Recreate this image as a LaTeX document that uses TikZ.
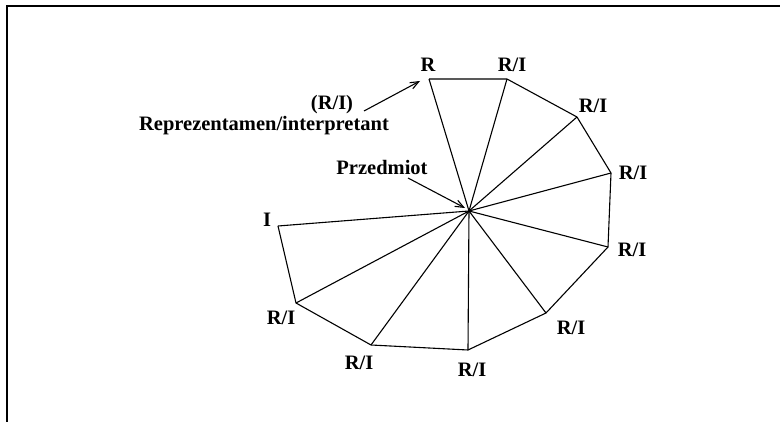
\documentclass[tikz,border=0pt]{standalone}
\usepackage{fontspec}
\setmainfont{Liberation Serif}
\usetikzlibrary{arrows.meta, positioning}
\begin{document}
\begin{tikzpicture}[
    x=1pt, y=-1pt,
    >={Straight Barb[length=3mm, width=2.4mm]},
    every node/.style={font=\fontsize{20.5}{23}\selectfont\bfseries, inner sep=1pt},
    edge/.style={line width=1.1pt, line join=miter},
    frame/.style={line width=2.2pt},
    pointer/.style={->, line width=1.1pt},
]
\useasboundingbox (0,0) rectangle (780,422);
\draw[frame] (7,422) -- (7,6) -- (780,6);
% fan of triangles round the object
\coordinate (c)  at (469,211);
\coordinate (v0) at (429,79);
\coordinate (v1) at (507,79);
\coordinate (v2) at (577,117);
\coordinate (v3) at (611,173);
\coordinate (v4) at (608,247);
\coordinate (v5) at (546,313);
\coordinate (v6) at (468,350);
\coordinate (v7) at (371,345);
\coordinate (v8) at (296,303);
\coordinate (v9) at (278,226);
\draw[edge] (v0) -- (v1) -- (v2) -- (v3) -- (v4) -- (v5) -- (v6) -- (v7) -- (v8) -- (v9);
\foreach \i in {0,...,9}
  \draw[edge] (c) -- (v\i);
% vertex labels
\node (lR) at (428,65) {R};
\node (l1) at (512,65) {R/I};
\node (l2) at (593,106) {R/I};
\node (l3) at (633,173) {R/I};
\node (l4) at (632,250) {R/I};
\node (l5) at (571,328) {R/I};
\node (l6) at (472,370) {R/I};
\node (l7) at (359,363) {R/I};
\node (l8) at (281,318) {R/I};
\node (lI) at (267,220) {I};
% captions with pointers
\node (obj)  at (382,167) {Przedmiot};
\node (ri)   at (332,105) {(R/I)};
\node (repr) at (264,126) {Reprezentamen/interpretant};
\coordinate (tipR) at (420,81);
\coordinate (tipC) at (465,208);
\draw[pointer] (364,111) -- (tipR);
\draw[pointer] (408,178) -- (tipC);
\end{tikzpicture}
\end{document}
